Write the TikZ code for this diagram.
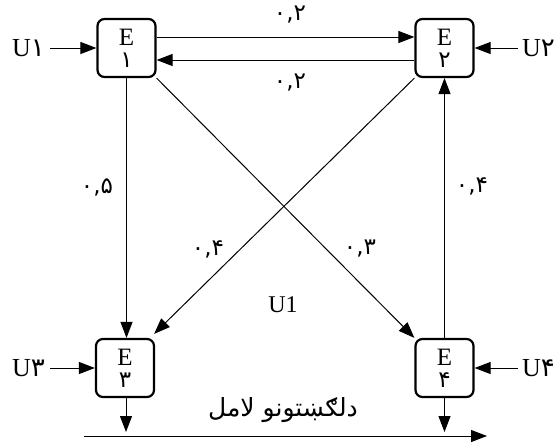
\documentclass[tikz,border=0pt]{standalone}
\usepackage{fontspec}
\setmainfont{Liberation Serif}
\newfontfamily\arabicfont[Script=Arabic]{DejaVu Sans}
\TeXXeTstate=1
\usetikzlibrary{arrows.meta}
\begin{document}
\begin{tikzpicture}[x=1pt,y=-1pt,
  ebox/.style={draw,line width=2.2pt,rounded corners=7pt,minimum width=58pt,minimum height=58pt,inner sep=0pt,align=center,font=\fontsize{25}{26}\selectfont},
  conn/.style={line width=1pt},
  arr/.style={conn,-{Triangle[length=16pt,width=12pt]}},
  ulab/.style={font=\fontsize{26}{27}\selectfont,inner sep=0pt},
  wlab/.style={font=\arabicfont\fontsize{23}{24}\selectfont,inner sep=0pt}]
\useasboundingbox (0,0) rectangle (555,445);

\node[ebox] (e1) at (126.5,48) {E\\[-4pt]{\arabicfont\fontsize{23}{24}\selectfont ۱}};
\node[ebox] (e2) at (444.5,48) {E\\[-4pt]{\arabicfont\fontsize{23}{24}\selectfont ۲}};
\node[ebox] (e3) at (125,368) {E\\[-4pt]{\arabicfont\fontsize{23}{24}\selectfont ۳}};
\node[ebox] (e4) at (444.5,368) {E\\[-4pt]{\arabicfont\fontsize{23}{24}\selectfont ۴}};

\node[ulab,anchor=east] (u1) at (45,48) {U{\arabicfont ۱}};
\node[ulab,anchor=west] (u2) at (522,48) {U{\arabicfont ۲}};
\node[ulab,anchor=east] (u3) at (45,368) {U{\arabicfont ۳}};
\node[ulab,anchor=west] (u4) at (522,368) {U{\arabicfont ۴}};

\draw[arr] ([xshift=5pt]u1.east) -- (e1.west);
\draw[arr] ([xshift=-4pt]u2.west) -- (e2.east);
\draw[arr] ([xshift=5pt]u3.east) -- (e3.west);
\draw[arr] ([xshift=-4pt]u4.west) -- (e4.east);

\draw[arr] ([yshift=11pt]e1.east) -- ([yshift=11pt]e2.west);
\draw[arr] ([yshift=-12pt]e2.west) -- ([yshift=-12pt]e1.east);
\draw[arr] (e1.south) -- (e1.south |- e3.north);
\draw[arr] (e4.north) -- (e2.south);
\draw[arr] (e1.south east) -- (e4.north west);
\draw[arr] (e2.south west) -- ([xshift=-1pt,yshift=4pt]e3.north east);

\coordinate (d3) at (126,432);
\coordinate (d4) at (444.5,432);
\draw[arr] (e3.south -| d3) -- (d3);
\draw[arr] (e4.south) -- (d4);
\coordinate (bl) at (84,436);
\coordinate (br) at (487,436);
\draw[arr] (bl) -- (br);

\node[wlab] (w12) at (290,15) {۰,۲};
\node[wlab] (w21) at (290,83) {۰,۲};
\node[wlab] (w13) at (97,187) {۰,۵};
\node[wlab] (w42) at (472,186) {۰,۴};
\node[wlab] (w23) at (208,249) {۰,۴};
\node[wlab] (w14) at (360,249) {۰,۳};
\node[font=\fontsize{24}{25}\selectfont,inner sep=0pt] (um) at (283,305) {U1};
\node[font=\arabicfont\fontsize{25}{26}\selectfont,inner sep=0pt] (bt) at (283,410) {\beginR دلګښتونو لامل\endR};
\end{tikzpicture}
\end{document}
